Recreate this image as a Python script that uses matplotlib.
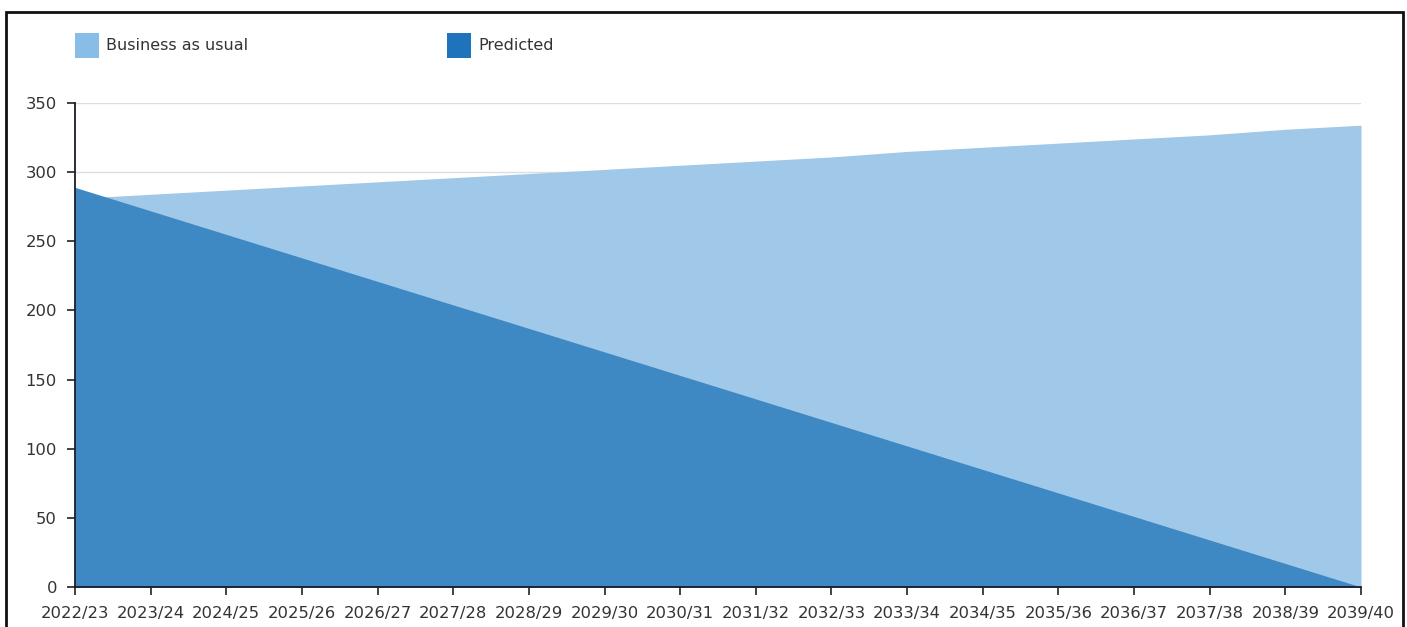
import matplotlib
matplotlib.use("Agg")
import matplotlib.pyplot as plt
from matplotlib.patches import Rectangle

# data: financial years and series values
years = ["2022/23", "2023/24", "2024/25", "2025/26", "2026/27", "2027/28",
         "2028/29", "2029/30", "2030/31", "2031/32", "2032/33", "2033/34",
         "2034/35", "2035/36", "2036/37", "2037/38", "2038/39", "2039/40"]
business_as_usual = [281, 284, 287, 290, 293, 296, 299, 302, 305, 308,
                     311, 315, 318, 321, 324, 327, 331, 334]
predicted = [289, 272, 255, 238, 221, 204, 187, 170, 153, 136,
             119, 102, 85, 68, 51, 34, 17, 0]
y_ticks = [0, 50, 100, 150, 200, 250, 300, 350]

fig = plt.figure(figsize=(14.07, 6.27), dpi=100)
ax = fig.add_axes([0.0533, 0.0638, 0.914, 0.7719])

x = list(range(len(years)))

# grid first so the fills cover it
for t in y_ticks[1:]:
    ax.axhline(t, color="#dddddd", lw=1, zorder=0)

ax.fill_between(x, 0, business_as_usual, color="#a0c8e8", lw=0, zorder=1)
ax.fill_between(x, 0, predicted, color="#3e88c3", lw=0, zorder=2)

ax.set_xlim(0, len(years) - 1)
ax.set_ylim(0, 350)
ax.set_xticks(x)
ax.set_xticklabels(years)
ax.set_yticks(y_ticks)
ax.tick_params(axis="both", labelsize=11.8, colors="#222222", length=6, width=1.2)
ax.tick_params(axis="x", pad=8)
ax.tick_params(axis="y", pad=7)
for lab in ax.get_xticklabels() + ax.get_yticklabels():
    lab.set_color("#333333")

for s in ["top", "right"]:
    ax.spines[s].set_visible(False)
for s in ["left", "bottom"]:
    ax.spines[s].set_color("#1a1a2a")
    ax.spines[s].set_linewidth(1.3)

# legend: coloured squares with labels
fig.patches.append(Rectangle((75 / 1407, 1 - 58 / 627), 24 / 1407, 25 / 627,
                             transform=fig.transFigure, color="#88bde8", lw=0))
fig.text(106 / 1407, 1 - 46 / 627, "Business as usual", fontsize=11.5,
         va="center", ha="left", color="#333333")
fig.patches.append(Rectangle((447 / 1407, 1 - 58 / 627), 24 / 1407, 25 / 627,
                             transform=fig.transFigure, color="#1f73bb", lw=0))
fig.text(478 / 1407, 1 - 46 / 627, "Predicted", fontsize=11.5,
         va="center", ha="left", color="#333333")

# outer frame
fig.patches.append(Rectangle((6 / 1407, -0.05), 1397 / 1407, 1.05 - 12 / 627,
                             transform=fig.transFigure, fill=False,
                             edgecolor="#111111", lw=2))

fig.savefig("out.png", dpi=100)
